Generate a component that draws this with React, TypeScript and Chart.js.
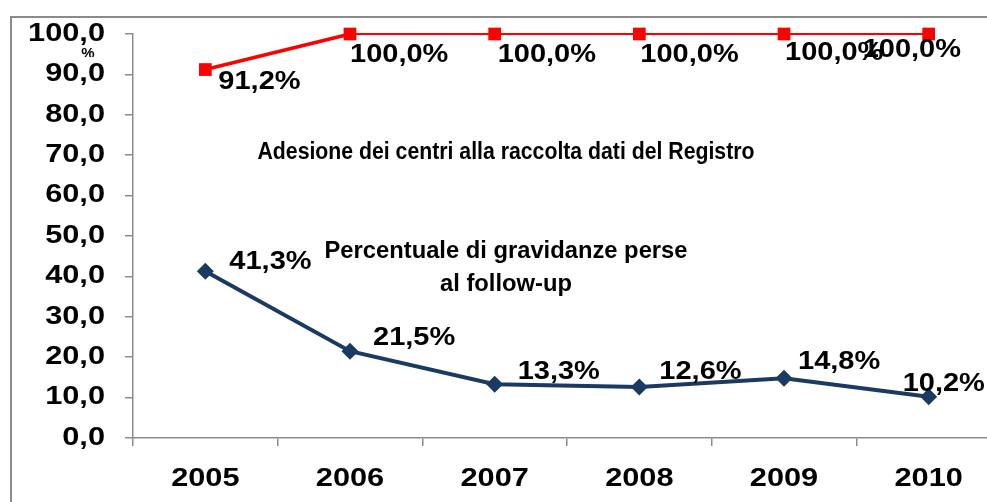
import { useEffect, useRef } from 'react';
import { Chart, registerables } from 'chart.js';

Chart.register(...registerables);

// ---- data ----
const categories = ['2005', '2006', '2007', '2008', '2009', '2010'];
const adesioneValues = [91.2, 100.0, 100.0, 100.0, 100.0, 100.0];
const persiValues = [41.3, 21.5, 13.3, 12.6, 14.8, 10.2];
const yTickValues = [0, 10, 20, 30, 40, 50, 60, 70, 80, 90, 100];
const adesioneTitle = 'Adesione dei centri alla raccolta dati del Registro';
const persiTitle = ['Percentuale di gravidanze perse', 'al follow-up'];
const unitLabel = '%';

// label nudges (pixels, relative to the point) for the data labels
const RED_NUDGE: [number, number][] = [[13, 13], [0, 21], [3, 21], [1, 21], [1, 19], [-66, 16]];
const BLUE_NUDGE: [number, number][] = [[24, -9], [23, -13], [23, -12], [20, -15], [14, -16], [-26, -13]];

const FONT_FAMILY = '"Liberation Sans", Arial, sans-serif';
const RED = '#ff0000';
const NAVY = '#1b3a63';
const AXIS = '#8c8c8c';

const fmt1 = (v: number) => v.toFixed(1).replace('.', ',');

function drawText(
  ctx: CanvasRenderingContext2D,
  text: string,
  x: number,
  y: number,
  font: string,
  scaleX: number,
  align: CanvasTextAlign
) {
  ctx.save();
  ctx.font = font;
  ctx.fillStyle = '#000';
  ctx.textBaseline = 'middle';
  ctx.textAlign = align;
  ctx.translate(x, y);
  ctx.scale(scaleX, 1);
  ctx.fillText(text, 0, 0);
  ctx.restore();
}

function fitScale(ctx: CanvasRenderingContext2D, text: string, font: string, width: number) {
  ctx.save();
  ctx.font = font;
  const w = ctx.measureText(text).width;
  ctx.restore();
  return w > 0 ? width / w : 1;
}

const decorPlugin = {
  id: 'decor',
  beforeDraw(chart: any) {
    const ctx: CanvasRenderingContext2D = chart.ctx;
    ctx.save();
    ctx.fillStyle = '#ffffff';
    ctx.fillRect(0, 0, chart.width, chart.height);
    ctx.strokeStyle = '#8a8a8a';
    ctx.lineWidth = 2;
    ctx.beginPath();
    ctx.moveTo(11, chart.height);
    ctx.lineTo(11, 17);
    ctx.lineTo(chart.width, 17);
    ctx.stroke();
    ctx.restore();
  },
  afterDatasetsDraw(chart: any) {
    const ctx: CanvasRenderingContext2D = chart.ctx;
    const xs = chart.scales.x;
    const ys = chart.scales.y;
    const numFont = `bold 25px ${FONT_FAMILY}`;

    // y tick labels
    yTickValues.forEach((v) => {
      drawText(ctx, fmt1(v), 105, ys.getPixelForValue(v), numFont, 1.23, 'right');
    });
    // small unit sign (partly hidden)
    ctx.save();
    ctx.beginPath();
    ctx.rect(70, 40, 40, 17);
    ctx.clip();
    ctx.font = `bold 15px ${FONT_FAMILY}`;
    ctx.fillStyle = '#000';
    ctx.textAlign = 'center';
    ctx.textBaseline = 'top';
    ctx.fillText(unitLabel, 88, 46);
    ctx.restore();

    // x category labels
    categories.forEach((c, i) => {
      drawText(ctx, c, xs.getPixelForValue(i), 479, numFont, 1.23, 'center');
    });

    // data labels
    const metaR = chart.getDatasetMeta(0);
    const metaB = chart.getDatasetMeta(1);
    adesioneValues.forEach((v, i) => {
      const p = metaR.data[i];
      const [dx, dy] = RED_NUDGE[i];
      drawText(ctx, fmt1(v) + '%', p.x + dx, p.y + dy, numFont, 1.16, 'left');
    });
    persiValues.forEach((v, i) => {
      const p = metaB.data[i];
      const [dx, dy] = BLUE_NUDGE[i];
      drawText(ctx, fmt1(v) + '%', p.x + dx, p.y + dy, numFont, 1.16, 'left');
    });

    // series titles
    const titleFont = `bold 23.5px ${FONT_FAMILY}`;
    const s1 = fitScale(ctx, adesioneTitle, titleFont, 497);
    drawText(ctx, adesioneTitle, 506, 153, titleFont, s1, 'center');
    const s2 = fitScale(ctx, persiTitle[0], titleFont, 363);
    drawText(ctx, persiTitle[0], 506, 252, titleFont, s2, 'center');
    drawText(ctx, persiTitle[1], 506, 285, titleFont, s2, 'center');
  },
};

export default function App() {
  const ref = useRef<HTMLCanvasElement>(null);

  useEffect(() => {
    if (!ref.current) return;
    const chart = new Chart(ref.current, {
      type: 'line',
      data: {
        labels: categories,
        datasets: [
          {
            label: adesioneTitle,
            data: adesioneValues,
            borderColor: RED,
            backgroundColor: RED,
            borderWidth: 2,
            segment: {
              borderWidth: (c: any) => (c.p0DataIndex === 0 ? 3.5 : 2),
            },
            pointStyle: 'rect',
            pointRadius: 9,
            pointBorderWidth: 0,
            pointBackgroundColor: RED,
            pointBorderColor: RED,
            tension: 0,
            clip: false,
          } as any,
          {
            label: persiTitle.join(' '),
            data: persiValues,
            borderColor: NAVY,
            backgroundColor: NAVY,
            borderWidth: 4,
            pointStyle: 'rectRot',
            pointRadius: 8.5,
            pointBorderWidth: 0,
            pointBackgroundColor: NAVY,
            pointBorderColor: NAVY,
            tension: 0,
            clip: false,
          } as any,
        ],
      },
      options: {
        responsive: false,
        animation: false,
        layout: { padding: { left: 125, top: 34, right: 9, bottom: 56 } },
        plugins: {
          legend: { display: false },
          tooltip: { enabled: false },
          title: { display: false },
        },
        scales: {
          x: {
            type: 'category',
            offset: true,
            grid: {
              offset: true,
              drawOnChartArea: false,
              drawTicks: true,
              tickLength: 8,
              color: AXIS,
              lineWidth: 1.5,
            },
            border: { display: true, color: AXIS, width: 1.5 },
            ticks: { display: false },
          },
          y: {
            min: 0,
            max: 100,
            afterBuildTicks: (scale: any) => {
              scale.ticks = yTickValues.map((v) => ({ value: v }));
            },
            grid: {
              drawOnChartArea: false,
              drawTicks: true,
              tickLength: 8,
              color: AXIS,
              lineWidth: 1.5,
            },
            border: { display: true, color: AXIS, width: 1.5 },
            ticks: { display: false },
          },
        },
      },
      plugins: [decorPlugin],
    } as any);
    return () => chart.destroy();
  }, []);

  return (
    <div
      style={{
        position: 'fixed',
        left: 0,
        top: 0,
        width: 987,
        height: 502,
        overflow: 'hidden',
        background: '#fff',
      }}
    >
      <canvas ref={ref} width={1010} height={502} style={{ display: 'block' }} />
    </div>
  );
}
